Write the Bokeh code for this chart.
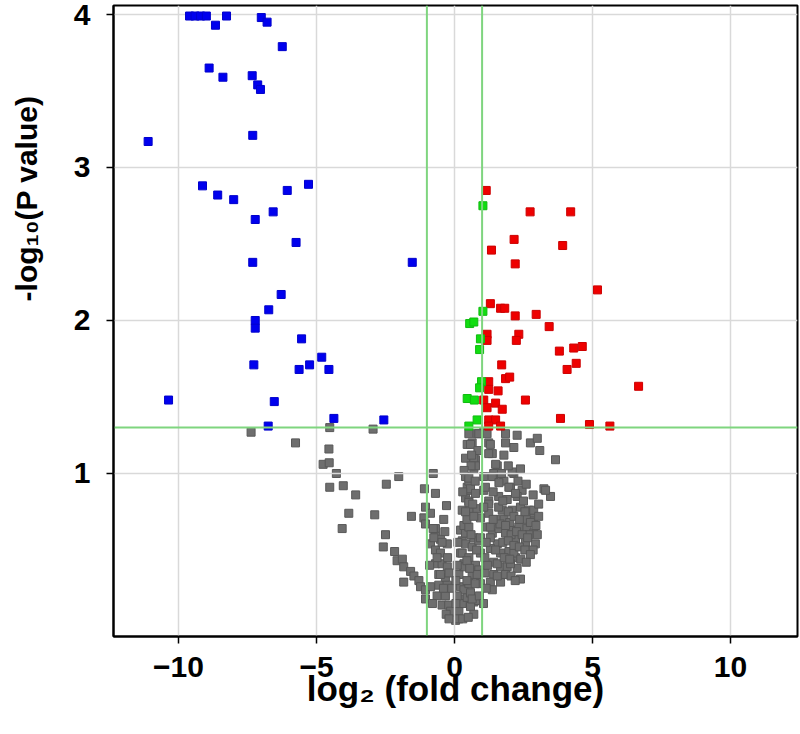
import math
from bokeh.plotting import figure
from bokeh.models import Range1d, FixedTicker, Span, Title
from bokeh.embed import file_html
from bokeh.resources import INLINE

# ---------------- data ----------------
x_ticks = [-10, -5, 0, 5, 10]
y_ticks = [1, 2, 3, 4]
fc_threshold = 1.0          # |log2 fold change|
p_threshold = 0.05          # P value

blue_x = [-9.60, -9.40, -9.20, -8.99, -8.66, -8.26, -7.00, -6.79, -6.24, -8.89,
          -8.39, -7.33, -7.13, -7.03, -11.10, -7.31, -9.13, -8.58, -8.00, -6.06,
          -5.29, -7.22, -6.57, -5.74, -7.31, -1.53, -6.28, -6.73, -7.22, -7.22,
          -5.54, -4.81, -5.25, -5.63, -4.55, -7.27, -10.36, -6.53, -4.37, -2.56,
          -6.75]
blue_y = [3.99, 3.99, 3.99, 3.99, 3.93, 3.99, 3.98, 3.95, 3.79, 3.65,
          3.59, 3.60, 3.54, 3.51, 3.17, 3.21, 2.88, 2.82, 2.79, 2.85,
          2.89, 2.66, 2.71, 2.51, 2.38, 2.38, 2.17, 2.07, 2.00, 1.95,
          1.88, 1.76, 1.71, 1.68, 1.68, 1.71, 1.48, 1.47, 1.36, 1.35,
          1.31]

red_x = [1.15, 2.74, 4.21, 2.16, 1.34, 3.92, 2.20, 5.18, 1.30, 1.67,
         1.82, 2.20, 2.96, 3.43, 1.18, 1.18, 2.33, 2.24, 3.80, 4.32,
         4.63, 4.41, 4.08, 1.71, 1.85, 2.00, 6.67, 1.24, 1.24, 1.58,
         2.57, 1.06, 1.49, 1.18, 1.73, 3.84, 4.89, 5.63, 1.24, 1.49,
         1.67, 1.24]
red_y = [2.85, 2.71, 2.71, 2.53, 2.46, 2.49, 2.37, 2.20, 2.11, 2.08,
         2.08, 2.03, 2.04, 1.96, 1.91, 1.87, 1.91, 1.87, 1.80, 1.82,
         1.83, 1.72, 1.68, 1.71, 1.62, 1.63, 1.57, 1.60, 1.55, 1.54,
         1.48, 1.48, 1.46, 1.43, 1.42, 1.36, 1.32, 1.31, 1.35, 1.35,
         1.31, 1.31]

green_x = [1.03, 1.03, 0.55, 0.70, 0.94, 0.91, 0.98, 0.91, 0.46, 0.72, 0.82, 0.52]
green_y = [2.75, 2.06, 1.98, 1.99, 1.88, 1.81, 1.60, 1.56, 1.49, 1.48, 1.35, 1.31]

gray_points = [
    (-7.37, 1.27), (-5.76, 1.20), (-4.52, 1.30), (-2.95, 1.29), (-4.55, 1.16),
    (-4.76, 1.06), (-4.54, 1.07), (-4.28, 1.00), (-4.52, 0.91), (-4.03, 0.92),
    (-3.58, 0.86), (-3.83, 0.74), (-2.89, 0.73), (-4.07, 0.64), (-2.47, 0.93),
    (-2.02, 0.98), (-0.77, 1.00), (-1.56, 0.72),
    (-2.50, 0.60), (-2.58, 0.52), (-2.17, 0.49), (-2.08, 0.43), (-1.89, 0.44),
    (-1.84, 0.39), (-1.59, 0.36), (-1.47, 0.33), (-1.84, 0.29), (-1.29, 0.30),
    (-1.23, 0.26), (-1.05, 0.24), (-1.05, 0.18), (-0.87, 0.26),
    (-1.09, 0.90), (-0.69, 0.87), (-1.05, 0.78), (-0.29, 0.79), (-1.11, 0.71),
    (-0.39, 0.70), (-0.87, 0.74), (-1.05, 0.67), (-0.69, 0.64), (-0.87, 0.54),
    (-0.69, 0.59), (-0.51, 0.57), (-0.26, 0.54), (-0.69, 0.50), (-0.51, 0.48),
    (-0.69, 0.41), (-0.45, 0.41), (-0.57, 0.34), (-0.33, 0.32), (-0.57, 0.27),
    (-0.26, 0.27), (-0.63, 0.20), (-0.33, 0.20), (-0.45, 0.14), (-0.21, 0.14),
    (-0.08, 0.08), (0.04, 0.04), (-0.14, 0.10), (-0.77, 0.64), (-0.75, 0.58),
    (-0.63, 0.45), (-0.26, 0.39), (-0.51, 0.34), (-0.30, 0.08), (-0.10, 0.25),
    (0.16, 0.10), (0.34, 0.18), (0.22, 0.26), (0.16, 0.34), (0.34, 0.41),
    (0.22, 0.48), (0.28, 0.56), (0.22, 0.63), (0.40, 0.61), (0.28, 0.76),
    (0.40, 0.98), (0.46, 1.19), (0.52, 1.26), (0.46, 0.91), (0.40, 0.84),
    (0.28, 0.15), (0.46, 0.19), (0.58, 0.22), (0.70, 0.16), (0.34, 0.24),
    (0.05, 0.30), (0.34, 0.39), (0.28, 0.48), (0.40, 0.54), (0.34, 0.66),
    (0.52, 0.82), (0.58, 0.89), (0.52, 0.95), (0.70, 1.03), (0.76, 1.09),
    (0.64, 1.20), (0.82, 1.26), (1.06, 1.27), (1.24, 1.20), (1.37, 1.13),
    (1.55, 1.05), (1.06, 0.98), (1.06, 0.89), (1.24, 0.82), (1.42, 0.98),
    (1.79, 0.95), (2.03, 0.91), (2.15, 1.00), (2.39, 1.03), (2.15, 1.17),
    (1.85, 1.20), (1.85, 1.26), (2.27, 1.25), (1.79, 1.12), (2.75, 1.20),
    (3.00, 1.23), (3.09, 1.15), (3.66, 1.09), (3.24, 0.90), (3.48, 0.85),
    (2.45, 0.89), (2.27, 0.85), (0.58, 1.19), (0.88, 1.26), (1.18, 1.26),
    (1.30, 1.19), (0.70, 1.10), (0.76, 1.05), (1.24, 1.13), (1.49, 1.06),
    (1.42, 1.00), (2.09, 1.01), (0.52, 0.97), (0.58, 0.90), (0.76, 0.87),
    (1.12, 0.91), (1.37, 0.98), (1.61, 0.94), (1.97, 0.91), (3.30, 0.89),
    (0.52, 0.81), (0.52, 0.75), (0.82, 0.77), (1.24, 0.80), (1.24, 0.74),
    (1.73, 0.76), (2.09, 0.76), (2.39, 0.78), (2.69, 0.76), (2.82, 0.71),
    (2.21, 0.87), (1.91, 0.83), (0.52, 0.65), (0.70, 0.58), (0.64, 0.52),
    (0.52, 0.45), (0.76, 0.40), (0.64, 0.34), (0.52, 0.28), (0.58, 0.22),
    (0.76, 0.17), (0.58, 0.13), (1.18, 0.65), (1.37, 0.61), (1.61, 0.64),
    (1.85, 0.61), (2.09, 0.63), (2.33, 0.65), (2.63, 0.64), (2.87, 0.61),
    (2.93, 0.54), (2.57, 0.55), (2.21, 0.57), (1.55, 0.54), (1.30, 0.51),
    (1.67, 0.48), (1.97, 0.49), (2.21, 0.45), (1.42, 0.42), (1.67, 0.39),
    (1.91, 0.39), (2.27, 0.38), (2.39, 0.31), (1.42, 0.34), (1.30, 0.29),
    (1.67, 0.29), (1.37, 0.24), (0.94, 0.28), (0.88, 0.37), (0.94, 0.48),
    (0.88, 0.56), (0.64, 0.18), (0.70, 0.08), (0.94, 0.71), (1.06, 0.78),
    (0.94, 0.58), (1.30, 0.65), (1.30, 0.58), (1.49, 0.50), (0.82, 0.34),
    (2.87, 0.76), (2.87, 0.69), (2.03, 0.41), (2.15, 0.48), (1.55, 0.41),
    (1.80, 0.70), (2.00, 0.68), (2.60, 0.70), (2.50, 0.82), (1.50, 0.70),
    (1.60, 0.85), (2.70, 0.60), (1.10, 0.45), (1.10, 0.35), (0.10, 0.20),
    (0.15, 0.05), (0.45, 0.70), (0.40, 1.10), (0.60, 1.05),
    (1.60, 0.78), (1.75, 0.82), (1.95, 0.75), (2.15, 0.72), (2.35, 0.70),
    (2.55, 0.75), (2.75, 0.68), (2.95, 0.66), (3.05, 0.72), (1.65, 0.67),
    (1.85, 0.66), (2.05, 0.60), (2.25, 0.62), (2.45, 0.60), (2.65, 0.58),
    (2.85, 0.50), (3.00, 0.60), (1.75, 0.55), (1.95, 0.56), (2.15, 0.53),
    (2.35, 0.52), (2.55, 0.50), (2.75, 0.47), (1.80, 0.45), (2.00, 0.44),
    (2.40, 0.44), (2.60, 0.42), (1.85, 0.34), (2.05, 0.33), (2.20, 0.30),
    (1.55, 0.33), (1.20, 0.40), (1.15, 0.55), (1.40, 0.70), (1.40, 0.88),
    (1.70, 1.00), (1.95, 1.05), (2.30, 0.95), (2.60, 0.93), (2.85, 0.86),
    (3.05, 0.80), (0.75, 0.95), (0.85, 1.15), (0.62, 1.12), (0.70, 0.72),
    (0.66, 0.80), (0.60, 0.60), (0.80, 0.50), (0.75, 0.28), (0.45, 0.30),
    (0.45, 0.43), (0.40, 0.75), (0.30, 0.88), (0.35, 1.02), (0.55, 0.38),
    (0.90, 0.20), (1.05, 0.15), (1.15, 0.25), (0.30, 0.05), (0.50, 0.06),
    (-0.20, 0.05), (-0.40, 0.25), (-0.20, 0.35), (-0.45, 0.55), (-0.35, 0.62),
    (-0.90, 0.40), (-0.80, 0.15), (-0.25, 0.45), (0.10, 0.40), (0.12, 0.55),
    (0.05, 0.15),
]
gray_x = [pt[0] for pt in gray_points]
gray_y = [pt[1] for pt in gray_points]

# ---------------- figure ----------------
FONT = "Liberation Sans"

p = figure(width=799, height=730, output_backend="svg", toolbar_location=None,
           x_range=Range1d(-12.355, 12.428), y_range=Range1d(-0.0654, 4.0588),
           min_border_left=113, min_border_right=2, min_border_top=5,
           min_border_bottom=94)
p.background_fill_color = "white"
p.border_fill_color = "white"
p.outline_line_color = "black"
p.outline_line_width = 2

for ax in (p.xaxis[0], p.yaxis[0]):
    ax.axis_line_color = "black"
    ax.axis_line_width = 2
    ax.major_tick_line_color = "black"
    ax.major_tick_line_width = 1.5
    ax.major_tick_in = 0
    ax.major_tick_out = 7
    ax.minor_tick_line_color = None
    ax.major_label_text_font = FONT
    ax.major_label_text_font_style = "bold"
    ax.major_label_text_font_size = "30px"
    ax.major_label_text_color = "black"

p.xaxis.ticker = FixedTicker(ticks=x_ticks)
p.yaxis.ticker = FixedTicker(ticks=y_ticks)
p.xaxis.major_label_standoff = 13
p.yaxis.major_label_standoff = 16

p.xaxis.axis_label = "log\u2082 (fold change)"
p.xaxis.axis_label_text_font = FONT
p.xaxis.axis_label_text_font_style = "bold"
p.xaxis.axis_label_text_font_size = "35px"
p.xaxis.axis_label_text_color = "black"
p.xaxis.axis_label_standoff = -11

# blank spacer label widens the y-axis panel so the title sits further left
p.yaxis.axis_label = "\u00a0"
p.yaxis.axis_label_text_font_size = "8px"
p.yaxis.axis_label_standoff = 11

p.xgrid.ticker = FixedTicker(ticks=x_ticks)
p.ygrid.ticker = FixedTicker(ticks=y_ticks)
for g in (p.xgrid[0], p.ygrid[0]):
    g.grid_line_color = "#d9d9d9"
    g.grid_line_width = 1.5

# y axis title, aligned toward the top of the axis
p.add_layout(Title(text="-log\u2081\u2080(P value)", align="right", offset=90,
                   standoff=10, text_font=FONT, text_font_style="bold",
                   text_font_size="30px", text_color="black"), "left")

# gray (non-significant) points under the threshold lines
gray_r = p.scatter(gray_x, gray_y, marker="square", size=8,
                   fill_color="#6e6e6e", line_color="#585858", line_width=1)
gray_r.level = "underlay"

line_green = "#7fd57f"
for loc, dim in ((-fc_threshold, "height"), (fc_threshold, "height"),
                 (-math.log10(p_threshold), "width")):
    p.add_layout(Span(location=loc, dimension=dim, line_color=line_green,
                      line_width=2, level="glyph"))

p.scatter(blue_x, blue_y, marker="square", size=8,
          fill_color="#0000ee", line_color="#0000cc", line_width=1)
p.scatter(red_x, red_y, marker="square", size=8,
          fill_color="#ee0000", line_color="#cc0000", line_width=1)
p.scatter(green_x, green_y, marker="square", size=8,
          fill_color="#11dd11", line_color="#10bb10", line_width=1)

open("out.html", "w").write(file_html(p, INLINE))
